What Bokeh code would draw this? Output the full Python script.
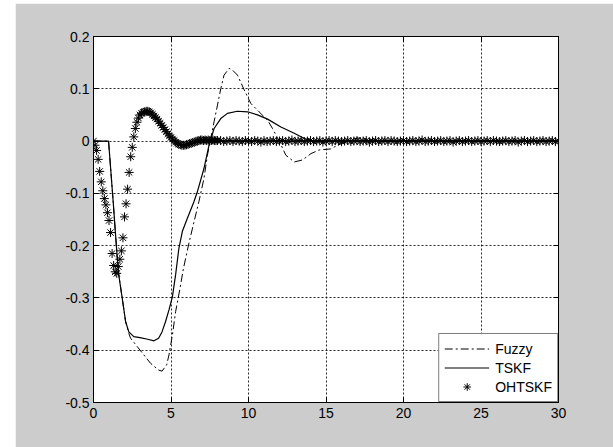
import numpy as np
from bokeh.plotting import figure
from bokeh.models import LinearAxis, FixedTicker, CustomJSTickFormatter, Spacer
from bokeh.layouts import row, column
from bokeh.embed import file_html
from bokeh.resources import INLINE

# ---------------- data ----------------
x_ticks = [0, 5, 10, 15, 20, 25, 30]
y_ticks = [-0.5, -0.4, -0.3, -0.2, -0.1, 0.0, 0.1, 0.2]

fuzzy_t = [0, 0.97, 1.1, 1.27, 1.4, 1.5, 1.6, 1.85, 2.07, 2.28,
           2.39, 2.82, 3.25, 3.68, 4.2, 4.42, 4.72, 4.87, 5.09, 5.3,
           5.58, 5.8, 6.16, 6.48, 6.8, 7.13, 7.35, 7.56, 7.78, 8.0,
           8.21, 8.42, 8.75, 8.96, 9.29, 9.72, 10.15, 10.68, 11.23, 11.55,
           11.98, 12.41, 12.95, 13.49, 14.03, 14.56, 15.3, 15.75, 16.4, 17.0,
           17.6, 18.5, 30]
fuzzy_y = [0, 0, -0.05, -0.116, -0.17, -0.21, -0.25, -0.3, -0.345, -0.368,
           -0.377, -0.393, -0.409, -0.425, -0.438, -0.44, -0.428, -0.409, -0.371, -0.326,
           -0.282, -0.244, -0.195, -0.155, -0.116, -0.071, -0.027, 0.005, 0.037, 0.069,
           0.1, 0.126, 0.139, 0.136, 0.126, 0.098, 0.072, 0.056, 0.04, 0.024,
           0.0, -0.027, -0.04, -0.036, -0.024, -0.017, -0.015, -0.008, 0.0, 0.006,
           0.004, 0.0, 0.0]

tskf_t = [0, 0.97, 1.1, 1.27, 1.4, 1.5, 1.6, 1.85, 2.07, 2.28,
          2.6, 3.0, 3.5, 3.9, 4.2, 4.42, 4.65, 4.87, 5.09, 5.3,
          5.51, 5.73, 6.05, 6.48, 6.7, 7.13, 7.45, 7.78, 8.21, 8.64,
          9.28, 9.94, 10.58, 11.23, 12.09, 12.95, 13.6, 14.24, 15.5, 30]
tskf_y = [0, 0, -0.05, -0.116, -0.17, -0.21, -0.25, -0.3, -0.345, -0.365,
          -0.374, -0.376, -0.379, -0.382, -0.377, -0.365, -0.345, -0.323, -0.298, -0.255,
          -0.205, -0.173, -0.148, -0.116, -0.097, -0.052, -0.008, 0.024, 0.043, 0.053,
          0.057, 0.056, 0.05, 0.042, 0.027, 0.015, 0.005, 0.0, 0.0, 0.0]

# OHTSKF samples: t = 0.0 .. 8.0 every 0.1
ohtskf_head = [0.000, -0.008, -0.018, -0.035, -0.058, -0.078, -0.095, -0.110, -0.122, -0.137,
               -0.152, -0.175, -0.215, -0.238, -0.250, -0.253, -0.240, -0.226, -0.210, -0.185,
               -0.145, -0.120, -0.092, -0.060, -0.030, -0.012, 0.008, 0.024, 0.036, 0.044,
               0.050, 0.053, 0.055, 0.056, 0.057, 0.057, 0.056, 0.054, 0.051, 0.048,
               0.045, 0.042, 0.038, 0.034, 0.030, 0.026, 0.022, 0.018, 0.014, 0.010,
               0.007, 0.004, 0.001, -0.002, -0.004, -0.006, -0.007, -0.008, -0.008, -0.008,
               -0.007, -0.006, -0.005, -0.004, -0.003, -0.002, -0.001, 0.000, 0.001, 0.002,
               0.002, 0.001, 0.002, 0.001, 0.002, 0.001, 0.001, 0.002, 0.001, 0.001, 0.001]
# OHTSKF samples: t = 8.2 .. 30.0 every 0.2
ohtskf_tail = [0.001, -0.001, 0.000, 0.001, -0.001, 0.001, 0.000, -0.001, 0.001, 0.000,
               -0.001, 0.001, 0.000, -0.002, 0.001, -0.001, 0.000, 0.001, -0.001, 0.000,
               0.001, -0.001, 0.000, 0.002, -0.001, 0.000, 0.001, -0.001, 0.000, 0.001,
               -0.001, 0.000, 0.001, -0.002, 0.000, 0.001, -0.001, 0.001, 0.000, -0.001,
               0.000, 0.001, -0.001, 0.000, 0.001, -0.001, 0.000, 0.001, -0.002, 0.000,
               0.001, -0.001, 0.000, 0.001, -0.001, 0.001, 0.000, -0.001, 0.000, 0.001,
               -0.001, 0.000, 0.001, -0.001, 0.000, 0.002, -0.001, 0.000, 0.001, -0.001,
               0.000, 0.001, -0.001, 0.000, 0.001, -0.002, 0.000, 0.001, -0.001, 0.000,
               0.001, -0.001, 0.000, 0.001, -0.001, 0.000, 0.001, -0.001, 0.001, 0.000,
               -0.001, 0.000, 0.001, -0.001, 0.000, 0.001, -0.002, 0.000, 0.001, -0.001,
               0.000, 0.001, -0.001, 0.000, 0.001, -0.001, 0.000, 0.001, -0.001, 0.000]

ohtskf_t = list(np.round(np.arange(len(ohtskf_head)) * 0.1, 2)) + \
           list(np.round(8.2 + np.arange(len(ohtskf_tail)) * 0.2, 2))
ohtskf_y = ohtskf_head + ohtskf_tail

# ---------------- figure ----------------
FONT = "Liberation Sans"

p = figure(width=598, height=444, x_range=(0, 30), y_range=(-0.5, 0.2),
           output_backend="svg", toolbar_location=None,
           min_border_left=78, min_border_right=55, min_border_top=33, min_border_bottom=45,
           background_fill_color="white", border_fill_color="#cccccc")
p.outline_line_color = "black"
p.outline_line_width = 1

for g, ticks in ((p.xgrid, x_ticks), (p.ygrid, y_ticks)):
    g.ticker = FixedTicker(ticks=ticks)
    g.grid_line_color = "black"
    g.grid_line_dash = "2 2"
    g.grid_line_width = 1
    g.grid_line_alpha = 0.85

fmt = CustomJSTickFormatter(code="return (Math.round(tick*10)/10).toString();")
blank = CustomJSTickFormatter(code="return '';")

def style_axis(ax, ticks, standoff=4):
    ax.ticker = FixedTicker(ticks=ticks)
    ax.axis_line_color = "black"
    ax.major_tick_line_color = "black"
    ax.major_tick_in = 5
    ax.major_tick_out = 0
    ax.minor_tick_line_color = None
    ax.major_label_text_font = FONT
    ax.major_label_text_color = "black"
    ax.major_label_standoff = standoff
    ax.major_label_text_font_size = "14px"

style_axis(p.xaxis[0], x_ticks, 5)
style_axis(p.yaxis[0], y_ticks, 4)
p.yaxis[0].formatter = fmt

top = LinearAxis(formatter=blank)
style_axis(top, x_ticks)
p.add_layout(top, "above")
right = LinearAxis(formatter=blank)
style_axis(right, y_ticks)
p.add_layout(right, "right")

p.line(fuzzy_t, fuzzy_y, line_color="black", line_width=1, line_dash="8 3 2 3",
       legend_label="Fuzzy")
p.line(tskf_t, tskf_y, line_color="black", line_width=1.2, legend_label="TSKF")
p.scatter(ohtskf_t, ohtskf_y, marker="asterisk", size=9, line_color="black",
          line_width=1, legend_label="OHTSKF")

lg = p.legend[0]
lg.location = "bottom_right"
lg.margin = 0
lg.padding = 5
lg.spacing = 0
lg.glyph_width = 45
lg.glyph_height = 19
lg.label_height = 19
lg.label_standoff = 6
lg.label_text_font = FONT
lg.label_text_font_size = "14px"
lg.label_text_color = "black"
lg.border_line_color = "black"
lg.border_line_width = 1
lg.background_fill_color = "white"
lg.background_fill_alpha = 1

layout = column(Spacer(width=613, height=3), row(Spacer(width=15, height=444), p))
open("out.html", "w").write(file_html(layout, INLINE))
